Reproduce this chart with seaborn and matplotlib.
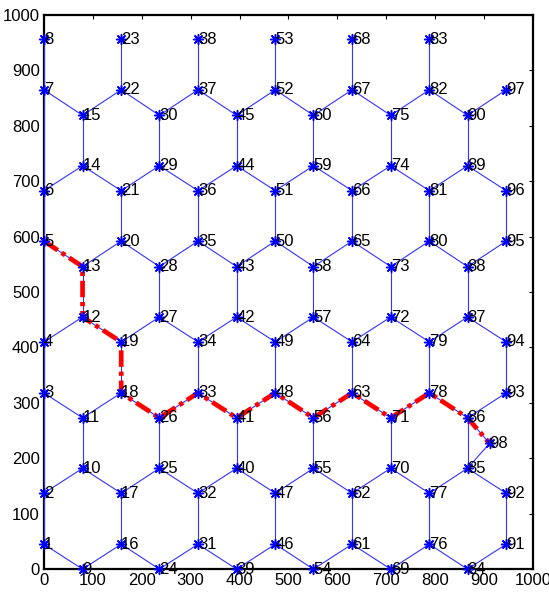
import matplotlib
matplotlib.use('Agg')
import matplotlib.pyplot as plt
import pandas as pd
import seaborn as sns

# Node coordinates (node id = position in list + 1), read column by column
node_x = [0, 0, 0, 0, 0, 0, 0, 0,
          79, 79, 79, 79, 79, 79, 79,
          158, 158, 158, 158, 158, 158, 158, 158,
          236, 236, 236, 236, 236, 236, 236,
          315, 315, 315, 315, 315, 315, 315, 315,
          394, 394, 394, 394, 394, 394, 394,
          473, 473, 473, 473, 473, 473, 473, 473,
          551, 551, 551, 551, 551, 551, 551,
          630, 630, 630, 630, 630, 630, 630, 630,
          709, 709, 709, 709, 709, 709, 709,
          788, 788, 788, 788, 788, 788, 788, 788,
          866, 866, 866, 866, 866, 866, 866,
          945, 945, 945, 945, 945, 945, 945,
          911]
node_y = [45, 137, 318, 410, 592, 683, 865, 956,
          0, 182, 273, 455, 546, 728, 819,
          45, 137, 318, 410, 592, 683, 865, 956,
          0, 182, 273, 455, 546, 728, 819,
          45, 137, 318, 410, 592, 683, 865, 956,
          0, 182, 273, 455, 546, 728, 819,
          45, 137, 318, 410, 592, 683, 865, 956,
          0, 182, 273, 455, 546, 728, 819,
          45, 137, 318, 410, 592, 683, 865, 956,
          0, 182, 273, 455, 546, 728, 819,
          45, 137, 318, 410, 592, 683, 865, 956,
          0, 182, 273, 455, 546, 728, 819,
          45, 137, 318, 410, 592, 683, 865,
          227]

# Links between nodes
edges = [
    (1, 2), (2, 3), (3, 4), (4, 5), (5, 6), (6, 7), (7, 8),
    (1, 9), (2, 10), (3, 11), (4, 12), (5, 13), (6, 14), (7, 15),
    (10, 11), (12, 13), (14, 15),
    (16, 9), (17, 10), (18, 11), (19, 12), (20, 13), (21, 14), (22, 15),
    (16, 17), (18, 19), (20, 21), (22, 23),
    (16, 24), (17, 25), (18, 26), (19, 27), (20, 28), (21, 29), (22, 30),
    (25, 26), (27, 28), (29, 30),
    (31, 24), (32, 25), (33, 26), (34, 27), (35, 28), (36, 29), (37, 30),
    (31, 32), (33, 34), (35, 36), (37, 38),
    (31, 39), (32, 40), (33, 41), (34, 42), (35, 43), (36, 44), (37, 45),
    (40, 41), (42, 43), (44, 45),
    (46, 39), (47, 40), (48, 41), (49, 42), (50, 43), (51, 44), (52, 45),
    (46, 47), (48, 49), (50, 51), (52, 53),
    (46, 54), (47, 55), (48, 56), (49, 57), (50, 58), (51, 59), (52, 60),
    (55, 56), (57, 58), (59, 60),
    (61, 54), (62, 55), (63, 56), (64, 57), (65, 58), (66, 59), (67, 60),
    (61, 62), (63, 64), (65, 66), (67, 68),
    (61, 69), (62, 70), (63, 71), (64, 72), (65, 73), (66, 74), (67, 75),
    (70, 71), (72, 73), (74, 75),
    (76, 69), (77, 70), (78, 71), (79, 72), (80, 73), (81, 74), (82, 75),
    (76, 77), (78, 79), (80, 81), (82, 83),
    (76, 84), (77, 85), (78, 86), (79, 87), (80, 88), (81, 89), (82, 90),
    (85, 86), (87, 88), (89, 90),
    (91, 84), (92, 85), (93, 86), (94, 87), (95, 88), (96, 89), (97, 90),
    (91, 92), (93, 94), (95, 96),
    (86, 98), (85, 98),
]

# Highlighted route
path_nodes = [5, 13, 12, 19, 18, 26, 33, 41, 48, 56, 63, 71, 78, 86, 98]

ticks = [0, 100, 200, 300, 400, 500, 600, 700, 800, 900, 1000]

sns.set_style('white')
plt.rcParams['font.family'] = ['Liberation Sans', 'DejaVu Sans']

rows = []
for k, (a, b) in enumerate(edges):
    rows.append({'edge': k, 'x': node_x[a - 1], 'y': node_y[a - 1]})
    rows.append({'edge': k, 'x': node_x[b - 1], 'y': node_y[b - 1]})
df_edges = pd.DataFrame(rows)
df_nodes = pd.DataFrame({'id': range(1, len(node_x) + 1), 'x': node_x, 'y': node_y})
df_path = pd.DataFrame({'route': 0,
                        'x': [node_x[n - 1] for n in path_nodes],
                        'y': [node_y[n - 1] for n in path_nodes]})

fig = plt.figure(figsize=(5.49, 6.01), dpi=100)
ax = fig.add_axes([0.080, 0.053, 0.891, 0.922])

sns.lineplot(data=df_edges, x='x', y='y', units='edge', estimator=None, sort=False,
             color='#3333ff', lw=0.8, ax=ax, zorder=3, clip_on=False)
sns.lineplot(data=df_path, x='x', y='y', units='route', estimator=None, sort=False,
             color='red', lw=3.4, ax=ax, zorder=4, clip_on=False)
ax.lines[-1].set_dashes([3.5, 1.0, 0.9, 1.0])
sns.scatterplot(data=df_nodes, x='x', y='y', marker=(8, 2, 0), color='blue',
                s=50, linewidth=1.1, ax=ax, zorder=5, clip_on=False)

for i, x, y in zip(df_nodes['id'], df_nodes['x'], df_nodes['y']):
    ax.text(x, y, str(i), ha='left', va='center', fontsize=12, color='black', zorder=6)

ax.set_xlim(0, 1000)
ax.set_ylim(0, 1000)
ax.set_xticks(ticks)
ax.set_yticks(ticks)
ax.set_xlabel('')
ax.set_ylabel('')
ax.tick_params(direction='in', length=3, width=0.8, top=True, right=True,
               labelsize=12, pad=3, colors='black')
for s in ax.spines.values():
    s.set_color('black')
    s.set_linewidth(1.6)

fig.savefig('out.png', dpi=100)
